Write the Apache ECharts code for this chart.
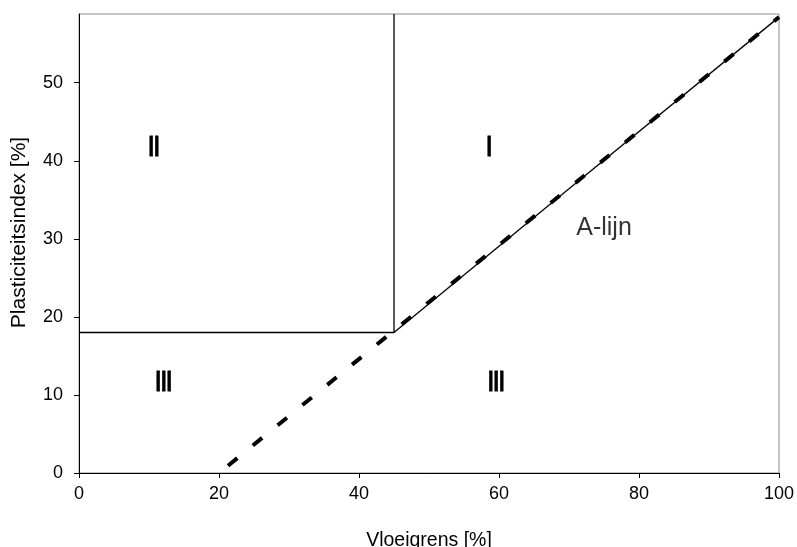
<!DOCTYPE html>
<html>
<head>
<meta charset="utf-8">
<script src="https://cdn.jsdelivr.net/npm/echarts@6/dist/echarts.min.js"></script>
<style>
  html, body { margin: 0; padding: 0; background: #fff; }
  #chart { width: 797px; height: 547px; }
</style>
</head>
<body>
<div id="chart"></div>
<script>
// Axis ranges and ticks
const xTicks = [0, 20, 40, 60, 80, 100];
const yTicks = [0, 10, 20, 30, 40, 50];
const yMax = 58.8;

// A-line (PI = 0.73 * (LL - 20)), dashed over the whole range
const aLineLL = [20, 100];
const aLinePI = [0, 58.4];

// Solid part of the A-line above the corner, in two pieces
const aSolidLL1 = [45, 67.6];
const aSolidPI1 = [18, 34.66];
const aSolidLL2 = [68.3, 100];
const aSolidPI2 = [35.17, 58.4];

// Zone boundaries: PI = 18 up to LL = 45, then LL = 45 upwards
const boundLL = [0, 45, 45];
const boundPI = [18, 18, yMax];

// Zone labels (Roman numerals)
const zoneText = ['II', 'I', 'III', 'III'];
const zoneLL = [10.7, 58.6, 12.1, 59.6];
const zonePI = [41.65, 41.65, 11.55, 11.55];

const lineName = 'A-lijn';
const lineLabelLL = 75;
const lineLabelPI = 31.4;

const pairs = (xs, ys) => xs.map((x, i) => [x, ys[i]]);
const FONT = 'Liberation Sans, Arial, sans-serif';

const chart = echarts.init(document.getElementById('chart'));
chart.setOption({
  animation: false,
  backgroundColor: '#fff',
  grid: {
    left: 79, right: 18, top: 14, bottom: 74,
    outerBoundsMode: 'none', containLabel: false,
    show: true, borderColor: '#8c8c8c', borderWidth: 1
  },
  xAxis: {
    type: 'value', min: 0, max: 100, interval: 20,
    name: 'Vloeigrens [%]', nameLocation: 'middle', nameGap: 58,
    nameTextStyle: { fontFamily: FONT, fontSize: 19.5, color: '#000' },
    axisLine: { show: true, onZero: false, lineStyle: { color: '#000', width: 1 } },
    axisTick: { show: true, inside: false, length: 5, lineStyle: { color: '#000' }, customValues: xTicks },
    axisLabel: { margin: 12, fontFamily: FONT, fontSize: 18, color: '#000', customValues: xTicks },
    splitLine: { show: false }
  },
  yAxis: {
    type: 'value', min: 0, max: yMax, interval: 10,
    name: 'Plasticiteitsindex [%]', nameLocation: 'middle', nameGap: 49, nameRotate: 90,
    nameTextStyle: { fontFamily: FONT, fontSize: 21, color: '#000', padding: [0, 0, 0, 22] },
    axisLine: { show: true, onZero: false, lineStyle: { color: '#000', width: 1 } },
    axisTick: { show: true, inside: false, length: 5, lineStyle: { color: '#000' }, customValues: yTicks },
    axisLabel: { margin: 16, fontFamily: FONT, fontSize: 18, color: '#000', customValues: yTicks },
    splitLine: { show: false }
  },
  series: [
    {
      type: 'line', data: pairs(boundLL, boundPI), symbol: 'none', silent: true,
      lineStyle: { color: '#000', width: 1.3 }
    },
    {
      type: 'line', data: pairs(aSolidLL1, aSolidPI1), symbol: 'none', silent: true,
      lineStyle: { color: '#000', width: 1.3 }
    },
    {
      type: 'line', data: pairs(aSolidLL2, aSolidPI2), symbol: 'none', silent: true,
      lineStyle: { color: '#000', width: 1.3 }
    },
    {
      type: 'line', data: pairs(aLineLL, aLinePI), symbol: 'none', silent: true,
      lineStyle: { color: '#000', width: 4, type: [12, 20], dashOffset: 20.4, cap: 'butt' }
    },
    {
      // Zone numerals: narrow, tall bar-like glyphs
      type: 'custom', silent: true,
      data: zoneLL.map((x, i) => [x, zonePI[i], i]),
      renderItem: (params, api) => {
        const p = api.coord([api.value(0), api.value(1)]);
        return {
          type: 'text', x: p[0], y: p[1], scaleX: 0.68,
          style: {
            text: zoneText[api.value(2)],
            fontFamily: FONT, fontWeight: 'bold', fontSize: 29,
            fill: '#000', stroke: '#000', lineWidth: 0.8,
            align: 'center', verticalAlign: 'middle'
          }
        };
      }
    },
    {
      type: 'scatter', symbolSize: 0, silent: true,
      data: [{ name: lineName, value: [lineLabelLL, lineLabelPI] }],
      label: {
        show: true, position: 'inside', formatter: '{b}',
        fontFamily: FONT, fontSize: 25, color: '#000', textBorderWidth: 0
      }
    }
  ]
});
</script>
</body>
</html>
